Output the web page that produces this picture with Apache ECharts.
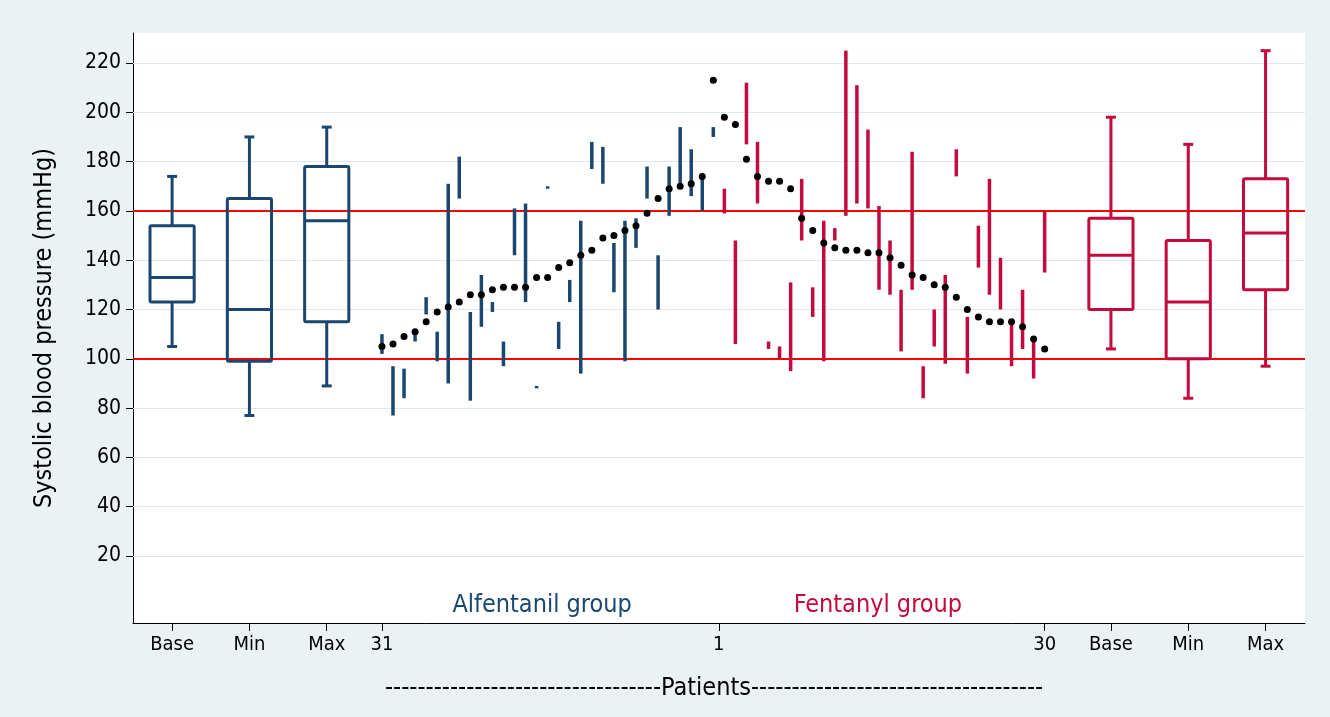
<!DOCTYPE html>
<html>
<head>
<meta charset="utf-8">
<script src="https://cdn.jsdelivr.net/npm/echarts@6/dist/echarts.min.js"></script>
<style>
  html, body { margin: 0; padding: 0; background: #eaf2f3; }
  #chart { width: 1330px; height: 717px; }
</style>
</head>
<body>
<div id="chart"></div>
<script>
// Per-patient systolic pressure: dot = baseline, bar = min..max during the procedure.
// Alfentanil patients are plotted from no. 31 to no. 1, Fentanyl from no. 1 to no. 30.
const alfBase = [105,106,109,111,115,119,121,123,126,126,128,129,129,129,133,133,137,139,142,144,149,150,152,154,159,165,169,170,171,174,213];
const alfLow  = [102,77,84,107,118,99,90,165,83,113,119,97,142,123,88,169,104,123,94,177,171,127,99,145,165,120,158,170,166,160,190];
const alfHigh = [110,97,96,112,125,111,171,182,119,134,123,107,161,163,89,170,115,132,156,188,186,147,156,157,178,142,178,194,185,174,194];

const fenBase = [198,195,181,174,172,172,169,157,152,147,145,144,144,143,143,141,138,134,133,130,129,125,120,117,115,115,115,113,108,104];
const fenLow  = [159,106,187,163,104,100,95,148,117,99,148,158,163,161,128,126,103,128,84,105,98,174,94,137,126,120,97,104,92,135];
const fenHigh = [169,148,212,188,107,105,131,173,129,156,153,225,211,193,162,148,128,184,97,120,134,185,117,154,173,141,115,128,109,160];

// Group summaries: [whisker low, q1, median, q3, whisker high] for Base, Min, Max
const boxNames = ['Base', 'Min', 'Max'];
const alfBoxes = [[105,123,133,154,174],[77,99,120,165,190],[89,115,156,178,194]];
const fenBoxes = [[104,120,142,157,198],[84,100,123,148,187],[97,128,151,173,225]];

// Horizontal axis slots
const alfBoxSlots = [-19, -12, -5];
const fenBoxSlots = [66, 73, 80];
const xTickPositions = [-19, -12, -5, 0, 30.5, 60, 66, 73, 80];
const xTickLabels = ['Base', 'Min', 'Max', '31', '1', '30', 'Base', 'Min', 'Max'];

const yTicks = [20, 40, 60, 80, 100, 120, 140, 160, 180, 200, 220];
const refLines = [100, 160];

const NAVY = '#1a476f';
const CRIMSON = '#c20a3c';
const FONT = '"DejaVu Sans Condensed", "Liberation Sans Narrow", "DejaVu Sans", sans-serif';

const alfBars = alfLow.map((lo, i) => [i, lo, alfHigh[i]]);
const fenBars = fenLow.map((lo, i) => [alfBase.length + i, lo, fenHigh[i]]);
const alfDots = alfBase.map((v, i) => [i, v]);
const fenDots = fenBase.map((v, i) => [alfBase.length + i, v]);
const alfBoxData = alfBoxes.map((b, k) => [alfBoxSlots[k]].concat(b));
const fenBoxData = fenBoxes.map((b, k) => [fenBoxSlots[k]].concat(b));

function rangeBar(color) {
  return function (params, api) {
    const a = api.coord([api.value(0), api.value(1)]);
    const b = api.coord([api.value(0), api.value(2)]);
    return {
      type: 'line',
      shape: { x1: a[0], y1: a[1], x2: b[0], y2: b[1] },
      style: { stroke: color, lineWidth: 3.5 }
    };
  };
}

function boxShape(color) {
  return function (params, api) {
    const x = api.value(0);
    const lo = api.coord([x, api.value(1)]);
    const q1 = api.coord([x, api.value(2)]);
    const md = api.coord([x, api.value(3)]);
    const q3 = api.coord([x, api.value(4)]);
    const hi = api.coord([x, api.value(5)]);
    const hw = api.size([2, 0])[0];
    const cw = api.size([0.45, 0])[0];
    const cx = lo[0];
    const st = { stroke: color, lineWidth: 3, fill: null, lineJoin: 'round' };
    const ln = (x1, y1, x2, y2) => ({ type: 'line', shape: { x1, y1, x2, y2 }, style: st });
    return {
      type: 'group',
      children: [
        { type: 'rect', shape: { x: cx - hw, y: q3[1], width: 2 * hw, height: q1[1] - q3[1], r: 1.5 }, style: st },
        ln(cx - hw, md[1], cx + hw, md[1]),
        ln(cx, q3[1], cx, hi[1]),
        ln(cx, q1[1], cx, lo[1]),
        ln(cx - cw, hi[1], cx + cw, hi[1]),
        ln(cx - cw, lo[1], cx + cw, lo[1])
      ]
    };
  };
}

const chart = echarts.init(document.getElementById('chart'), null, { renderer: 'canvas' });

chart.setOption({
  backgroundColor: '#eaf2f3',
  animation: false,
  title: {
    text: '----------------------------------Patients------------------------------------',
    left: 380, top: 671,
    textStyle: { fontFamily: FONT, fontSize: 25, fontWeight: 'normal', color: '#000' }
  },
  grid: {
    left: 133, right: 25, top: 33, bottom: 94,
    show: true, backgroundColor: '#ffffff', borderWidth: 0
  },
  xAxis: {
    type: 'value',
    min: -22.54, max: 83.57,
    axisLine: { show: true, onZero: false, lineStyle: { color: '#000', width: 1 } },
    axisTick: { show: true, customValues: xTickPositions, length: 8, lineStyle: { color: '#000' } },
    axisLabel: {
      customValues: xTickPositions,
      margin: 12,
      fontFamily: FONT, fontSize: 20, color: '#000',
      formatter: function (v) {
        const k = xTickPositions.findIndex(p => Math.abs(p - v) < 1e-6);
        return k >= 0 ? xTickLabels[k] : '';
      }
    },
    splitLine: { show: false }
  },
  yAxis: {
    type: 'value',
    min: -7.18, max: 232.17,
    name: 'Systolic blood pressure (mmHg)',
    nameLocation: 'middle',
    nameGap: 76,
    nameTextStyle: { fontFamily: FONT, fontSize: 25, color: '#000' },
    axisLine: { show: true, onZero: false, lineStyle: { color: '#000', width: 1 } },
    axisTick: { show: true, customValues: yTicks, length: 7, lineStyle: { color: '#000' } },
    axisLabel: { customValues: yTicks, margin: 12, fontFamily: FONT, fontSize: 21, color: '#000' },
    splitLine: { show: false }
  },
  series: [
    {
      // horizontal grid at each labelled value, plus the 100 / 160 mmHg limits
      type: 'scatter', data: [], silent: true, z: 1,
      markLine: {
        silent: true, symbol: 'none', animation: false, z: 1,
        label: { show: false },
        data: yTicks.map(v => ({ yAxis: v, lineStyle: { color: '#dde8ee', width: 1.2, type: 'solid', opacity: 1 } }))
          .concat(refLines.map(v => ({ yAxis: v, lineStyle: { color: '#ff0000', width: 2, type: 'solid', opacity: 1 } })))
      }
    },
    { name: 'Alfentanil range', type: 'custom', renderItem: rangeBar(NAVY), data: alfBars, z: 3, encode: { x: 0, y: [1, 2] } },
    { name: 'Fentanyl range', type: 'custom', renderItem: rangeBar(CRIMSON), data: fenBars, z: 3, encode: { x: 0, y: [1, 2] } },
    { name: 'Alfentanil summary', type: 'custom', renderItem: boxShape(NAVY), data: alfBoxData, z: 3, encode: { x: 0, y: [1, 5] } },
    { name: 'Fentanyl summary', type: 'custom', renderItem: boxShape(CRIMSON), data: fenBoxData, z: 3, encode: { x: 0, y: [1, 5] } },
    {
      name: 'Baseline', type: 'scatter', symbol: 'circle', symbolSize: 7, z: 5,
      itemStyle: { color: '#000', opacity: 1 },
      data: alfDots.concat(fenDots)
    },
    {
      // group captions
      type: 'scatter', symbolSize: 0, silent: true, z: 6,
      itemStyle: { opacity: 1 },
      label: {
        show: true, position: 'inside', fontFamily: FONT, fontSize: 25,
        formatter: p => p.data.name
      },
      data: [
        { name: 'Alfentanil group', value: [14.5, 0], label: { color: NAVY } },
        { name: 'Fentanyl group', value: [44.9, 0], label: { color: CRIMSON } }
      ]
    }
  ]
});
</script>
</body>
</html>
